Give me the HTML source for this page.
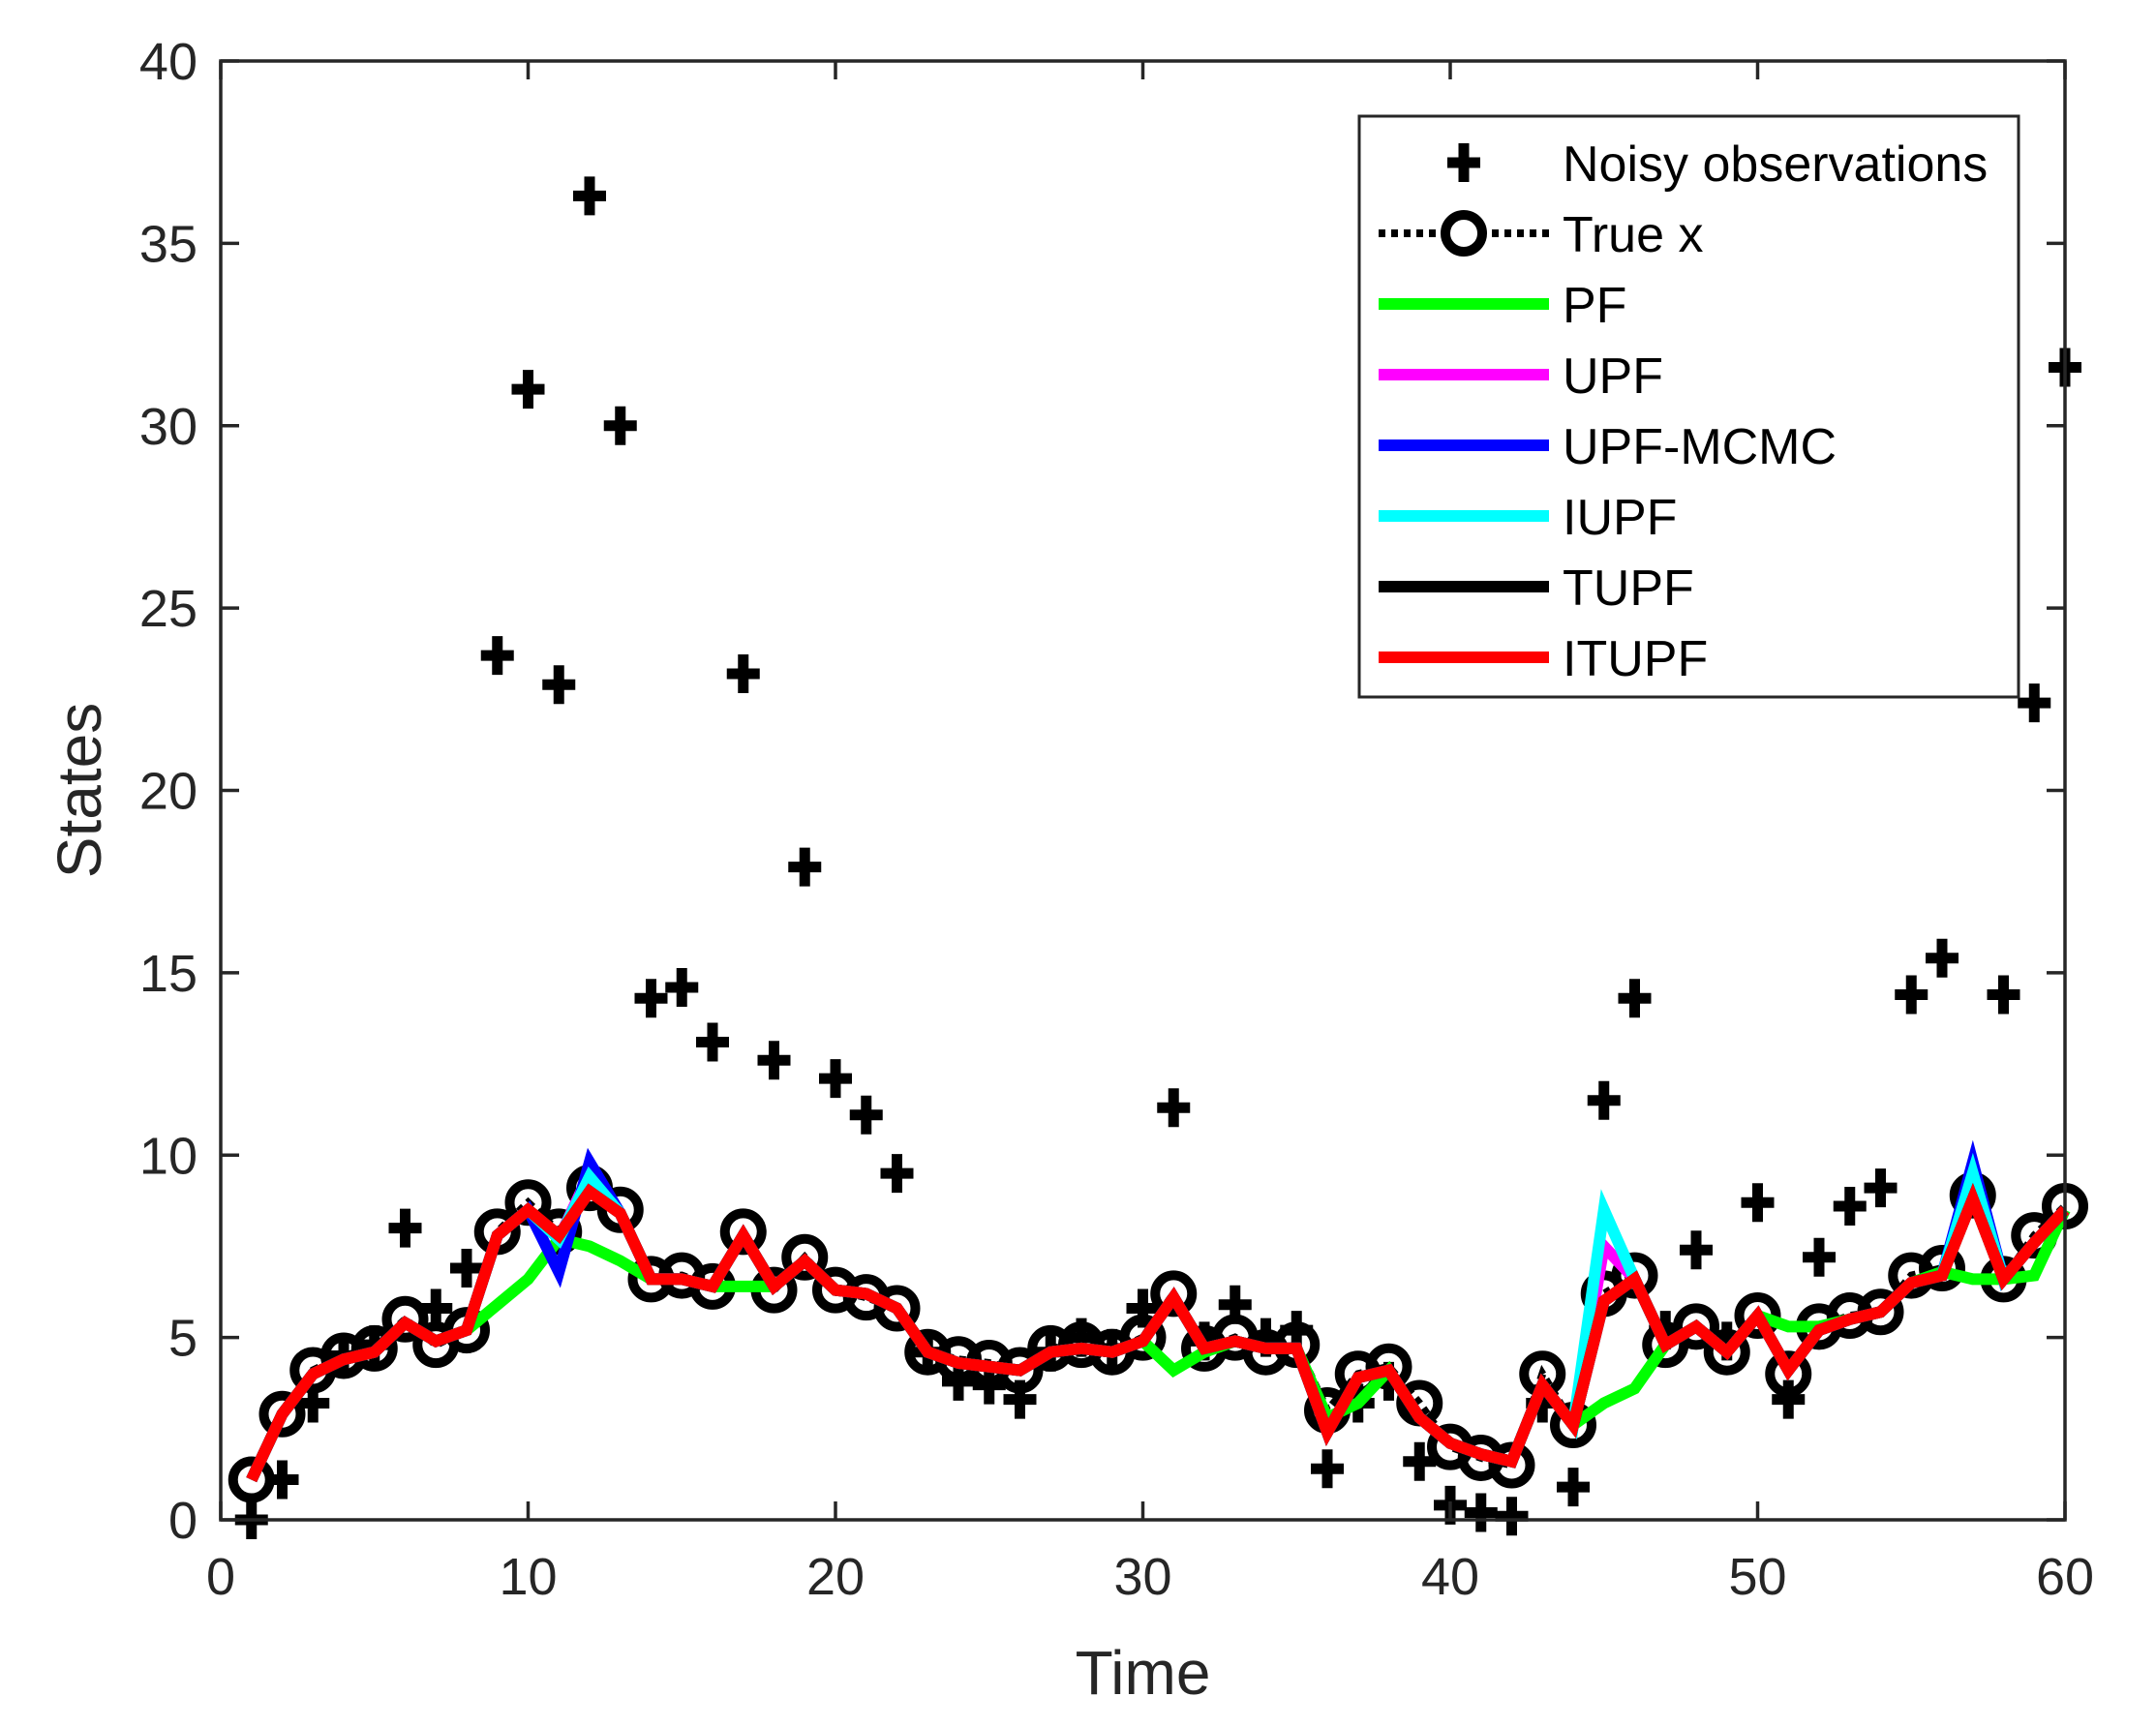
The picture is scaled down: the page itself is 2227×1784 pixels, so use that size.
<!DOCTYPE html>
<html><head><meta charset="utf-8"><style>
html,body{margin:0;padding:0;background:#fff;}
svg{display:block;font-family:"Liberation Sans",Arial,sans-serif;}
</style></head><body>
<svg id="chart" width="2227" height="1784" viewBox="0 0 2227 1784" xmlns="http://www.w3.org/2000/svg">
<rect x="0" y="0" width="2227" height="1784" fill="#fff"/>
<g id="plot"></g>
<g id="axes"></g>
<g id="legend"></g>
</svg>
<script>
const xTicks=[0,10,20,30,40,50,60];
const yTicks=[0,5,10,15,20,25,30,35,40];
const times=[1,2,3,4,5,6,7,8,9,10,11,12,13,14,15,16,17,18,19,20,21,22,23,24,25,26,27,28,29,30,31,32,33,34,35,36,37,38,39,40,41,42,43,44,45,46,47,48,49,50,51,52,53,54,55,56,57,58,59,60];
const noisyObs=[0,1.1,3.2,4.5,4.8,8.0,5.8,6.9,23.7,31.0,22.9,36.3,30.0,14.3,14.6,13.1,23.2,12.6,17.9,12.1,11.1,9.5,4.6,3.8,3.7,3.3,4.6,5.0,4.7,5.8,11.3,4.9,5.9,5.0,5.2,1.4,3.2,3.8,1.6,0.4,0.2,0.1,3.2,0.9,11.5,14.3,5.2,7.4,4.9,8.7,3.3,7.2,8.6,9.1,14.4,15.4,9.2,14.4,22.4,31.6];
const trueX=[1.1,2.9,4.1,4.5,4.7,5.5,4.8,5.2,7.9,8.7,7.9,9.1,8.5,6.6,6.7,6.4,7.9,6.3,7.2,6.3,6.1,5.8,4.6,4.4,4.3,4.1,4.7,4.8,4.6,5.0,6.2,4.7,5.0,4.6,4.8,3.0,4.0,4.2,3.2,2.0,1.7,1.5,4.0,2.6,6.2,6.7,4.8,5.3,4.6,5.6,4.0,5.3,5.6,5.7,6.7,6.9,8.9,6.6,7.8,8.6];
const itupf=[1.1,2.9,4.0,4.4,4.6,5.4,4.9,5.2,7.8,8.5,7.8,9.0,8.4,6.6,6.6,6.4,7.8,6.4,7.1,6.3,6.2,5.8,4.6,4.3,4.2,4.1,4.6,4.7,4.6,4.9,6.1,4.7,4.9,4.7,4.7,2.4,3.9,4.1,2.8,2.1,1.8,1.6,3.7,2.6,6.0,6.6,4.8,5.3,4.6,5.6,4.1,5.2,5.5,5.7,6.5,6.7,8.8,6.6,7.6,8.5];
const pf=[1.1,2.9,4.0,4.4,4.6,5.4,4.9,5.2,5.9,6.6,7.7,7.5,7.1,6.6,6.6,6.4,6.4,6.4,7.1,6.3,6.2,5.8,4.6,4.3,4.2,4.1,4.6,4.7,4.6,4.9,4.1,4.6,4.9,4.7,4.7,2.8,3.2,4.1,2.8,2.1,1.8,1.6,3.7,2.6,3.2,3.6,4.8,5.3,4.6,5.6,5.3,5.3,5.5,5.7,6.5,6.8,6.6,6.6,6.7,8.5];
const upf=[1.1,2.9,4.0,4.4,4.6,5.4,4.9,5.2,7.8,8.5,7.7,9.5,8.4,6.6,6.6,6.4,7.8,6.4,7.1,6.3,6.2,5.8,4.6,4.3,4.2,4.1,4.6,4.7,4.6,4.9,6.1,4.7,4.9,4.7,4.7,2.4,3.9,4.1,2.8,2.1,1.8,1.6,3.7,2.6,7.5,6.6,4.8,5.3,4.6,5.6,4.1,5.2,5.5,5.7,6.5,6.7,9.2,6.6,7.6,8.5];
const upfMcmc=[1.1,2.9,4.0,4.4,4.6,5.4,4.9,5.2,7.8,8.5,6.8,9.8,8.4,6.6,6.6,6.4,7.8,6.4,7.1,6.3,6.2,5.8,4.6,4.3,4.2,4.1,4.6,4.7,4.6,4.9,6.1,4.7,4.9,4.7,4.7,2.4,3.9,4.1,2.8,2.1,1.8,1.6,3.7,2.6,6.0,6.6,4.8,5.3,4.6,5.6,4.1,5.2,5.5,5.7,6.5,6.7,9.8,6.6,7.6,8.5];
const iupf=[1.1,2.9,4.0,4.4,4.6,5.4,4.9,5.2,7.8,8.5,7.7,9.4,8.4,6.6,6.6,6.4,7.8,6.4,7.1,6.3,6.2,5.8,4.6,4.3,4.2,4.1,4.6,4.7,4.6,4.9,6.1,4.7,4.9,4.7,4.7,2.4,3.9,4.1,2.8,2.1,1.8,1.6,3.7,2.6,8.5,6.6,4.8,5.3,4.6,5.6,4.1,5.2,5.5,5.7,6.5,6.7,9.5,6.6,7.6,8.5];
const tupf=itupf.slice();
const seriesNames=["PF","UPF","UPF-MCMC","IUPF","TUPF","ITUPF"];
const seriesColors=["#00ff00","#ff00ff","#0000ff","#00ffff","#000000","#ff0000"];
const seriesData=[pf,upf,upfMcmc,iupf,tupf,itupf];

const L=228,R=2133,T=63,B=1570;
const xs=v=>L+(v-0)/(60-0)*(R-L);
const ys=v=>B-(v-0)/(40-0)*(B-T);
const NS="http://www.w3.org/2000/svg";
function mk(tag,attrs,parent){const e=document.createElementNS(NS,tag);for(const k in attrs)e.setAttribute(k,attrs[k]);parent.appendChild(e);return e;}
const plot=document.getElementById('plot'),axes=document.getElementById('axes'),leg=document.getElementById('legend');

function plus(cx,cy,parent,name){
  const g=mk('g',{},parent);
  
  
  mk('line',{x1:cx-17,y1:cy,x2:cx+17,y2:cy,stroke:'#000','stroke-width':11},g);
  mk('line',{x1:cx,y1:cy-20,x2:cx,y2:cy+20,stroke:'#000','stroke-width':11},g);
}
noisyObs.forEach((v,i)=>plus(xs(times[i]),ys(v),plot,'observation-point'));
const tpts=trueX.map((v,i)=>xs(times[i])+','+ys(v)).join(' ');
const tl=mk('polyline',{points:tpts,fill:'none',stroke:'#000','stroke-width':8,'stroke-dasharray':'7 6'},plot);


trueX.forEach((v,i)=>{const c=mk('circle',{cx:xs(times[i]),cy:ys(v),r:19,fill:'none',stroke:'#000','stroke-width':10},plot);

});
seriesData.forEach((d,si)=>{
  const p=mk('polyline',{points:d.map((v,i)=>xs(times[i])+','+ys(v)).join(' '),fill:'none',stroke:seriesColors[si],'stroke-width':12,'stroke-linejoin':'miter'},plot);
  
  
});
const box=mk('rect',{x:L,y:T,width:R-L,height:B-T,fill:'none',stroke:'#262626','stroke-width':3.5},axes);


xTicks.forEach(t=>{const x=xs(t);
  mk('line',{x1:x,y1:B,x2:x,y2:B-19,stroke:'#262626','stroke-width':3.5},axes);
  mk('line',{x1:x,y1:T,x2:x,y2:T+19,stroke:'#262626','stroke-width':3.5},axes);
  const tx=mk('text',{x:x,y:B+77,'text-anchor':'middle','font-size':54,fill:'#262626'},axes);tx.textContent=t;
  
  });
yTicks.forEach(t=>{const y=ys(t);
  mk('line',{x1:L,y1:y,x2:L+19,y2:y,stroke:'#262626','stroke-width':3.5},axes);
  mk('line',{x1:R,y1:y,x2:R-19,y2:y,stroke:'#262626','stroke-width':3.5},axes);
  const tx=mk('text',{x:L-24,y:y+19,'text-anchor':'end','font-size':54,fill:'#262626'},axes);tx.textContent=t;
  
  });
const xt=mk('text',{x:(L+R)/2,y:1750,'text-anchor':'middle','font-size':64,fill:'#262626'},axes);xt.textContent='Time';


const yt=mk('text',{x:0,y:0,'text-anchor':'middle','font-size':64,fill:'#262626',transform:'translate(104,'+((T+B)/2)+') rotate(-90)'},axes);yt.textContent='States';


const lb=mk('rect',{x:1404,y:120,width:681,height:600,fill:'#fff',stroke:'#262626','stroke-width':3},leg);


const labels=['Noisy observations','True x'].concat(seriesNames);
labels.forEach((lab,i)=>{const y=168+i*73;
  const g=mk('g',{},leg);
  
  
  if(i===0){plus(1512,y,g,'legend-plus-icon');}
  else if(i===1){mk('line',{x1:1424,y1:y,x2:1600,y2:y,stroke:'#000','stroke-width':8,'stroke-dasharray':'7 6'},g);
    mk('circle',{cx:1512,cy:y,r:19,fill:'#fff',stroke:'#000','stroke-width':10},g);}
  else{mk('line',{x1:1424,y1:y,x2:1600,y2:y,stroke:seriesColors[i-2],'stroke-width':12},g);}
  const tx=mk('text',{x:1614,y:y+19,'font-size':52,fill:'#000'},g);tx.textContent=lab;
});
</script>
</body></html>
